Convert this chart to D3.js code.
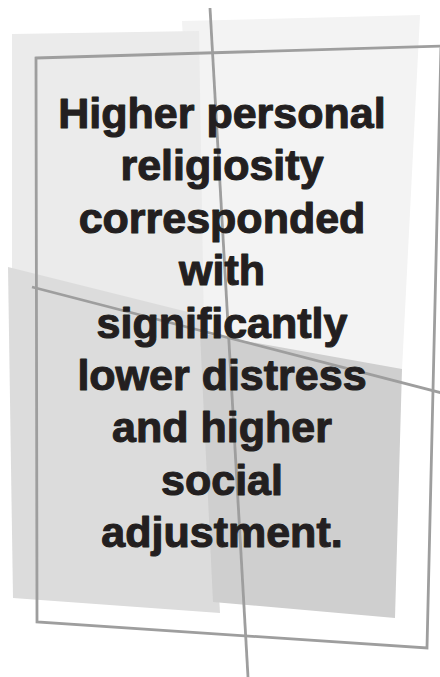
<!DOCTYPE html>
<html>
<head>
<meta charset="utf-8">
<script src="https://cdn.jsdelivr.net/npm/d3@7"></script>
<style>
  html, body { margin: 0; padding: 0; background: #fff; }
  svg { display: block; }
</style>
</head>
<body>
<svg id="quote"></svg>
<script>
// Pull-quote panel: layered grey sheets, a tilted frame, two crossing rules, and the quote.

var W = 440, H = 677;

// quote text, one entry per line
var quoteLines = ["Higher personal", "religiosity", "corresponded", "with",
  "significantly", "lower distress", "and higher", "social", "adjustment."];

// grey sheets (back to front), corners in picture units
var sheetBack  = [[182, 21], [420, 15], [402, 370], [200, 370]];
var sheetLeft  = [[12, 34], [199, 31], [204, 330], [12, 300]];
var sheetLower = [[8, 267], [204, 316], [220, 613], [13, 598]];
var sheetRight = [[200, 333], [402, 369], [395, 618], [213, 602]];
var sheetFills = ["#f3f3f3", "#ebebeb", "#dcdcdc", "#cfcfcf"];

// tilted frame and the two long rules
var frame = [[36, 58], [441, 46], [427, 648], [37, 622]];
var ruleVertical = [[210, 8], [248, 677]];
var ruleSlant = [[32, 287], [442, 393]];

var x = d3.scaleLinear().domain([0, 440]).range([0, W]);
var y = d3.scaleLinear().domain([0, 677]).range([0, H]);
var lineY = d3.scaleLinear().domain([0, quoteLines.length - 1]).range([128, 547]);

var svg = d3.select("#quote").attr("width", W).attr("height", H);

var path = d3.line().x(function(d) { return x(d[0]); }).y(function(d) { return y(d[1]); });

svg.append("g")
  .selectAll("path")
  .data([sheetBack, sheetLeft, sheetLower, sheetRight])
  .join("path")
    .attr("d", function(d) { return path(d) + "Z"; })
    .attr("fill", function(d, i) { return sheetFills[i]; });

var rules = svg.append("g")
  .attr("fill", "none")
  .attr("stroke", "#9e9e9e")
  .attr("stroke-width", 2.8);

rules.append("path").attr("d", path(frame) + "Z").attr("stroke-linejoin", "miter");
rules.append("path").attr("d", path(ruleVertical));
rules.append("path").attr("d", path(ruleSlant));

svg.append("g")
  .selectAll("text")
  .data(quoteLines)
  .join("text")
    .attr("x", x(222))
    .attr("y", function(d, i) { return y(lineY(i)); })
    .attr("text-anchor", "middle")
    .attr("font-family", "'Liberation Sans', Arial, sans-serif")
    .attr("font-weight", "bold")
    .attr("font-size", 43)
    .attr("fill", "#231f20")
    .attr("stroke", "#231f20")
    .attr("stroke-width", 1.1)
    .attr("stroke-linejoin", "round")
    .text(function(d) { return d; });
</script>
</body>
</html>
